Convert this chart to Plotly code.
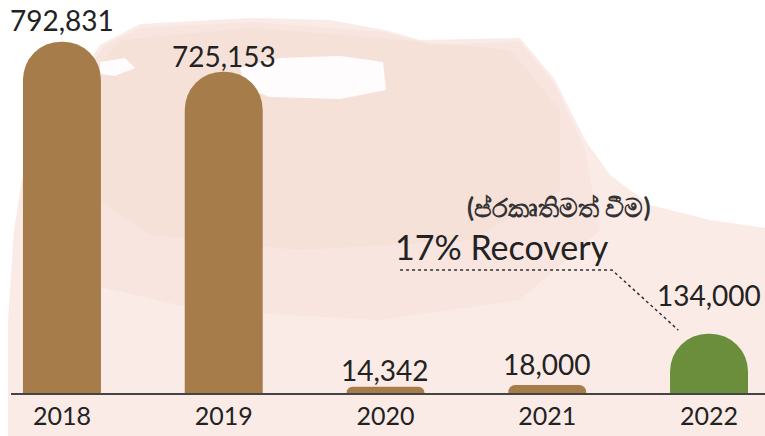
import plotly.graph_objects as go

years = ["2018", "2019", "2020", "2021", "2022"]
arrivals = [792831, 725153, 14342, 18000, 134000]
value_labels = ["792,831", "725,153", "14,342", "18,000", "134,000"]
recovery_label = "17% Recovery"
recovery_label_si = "(ප්රකෘතිමත් වීම)"

BROWN = "#A67C4A"
GREEN = "#6A8E3B"
TEXT = "#222222"
FONT = "Lato, 'Noto Sans', sans-serif"

colors = [BROWN, BROWN, BROWN, BROWN, GREEN]
xpos = list(range(len(years)))
label_shift = [3, -3, -2, 2, 20]

W, H, ML, MB = 765, 436, 11, 43
PW, PH = W - ML, H - MB


def wash(points):
    """Decorative background blob given in screen pixels -> paper coords path."""
    pts = [((px - ML) / PW, (PH - py) / PH) for px, py in points]
    return "M " + " L ".join(f"{x:.4f} {y:.4f}" for x, y in pts) + " Z"


fig = go.Figure()
fig.add_trace(go.Bar(
    x=xpos, y=arrivals, width=0.482,
    marker=dict(color=colors, line=dict(width=0)),
    hoverinfo="skip",
))

shapes = [
    # main light wash
    dict(type="path", xref="paper", yref="paper", layer="below",
         path=wash([(8, 436), (8, 320), (14, 230), (22, 180), (45, 130), (100, 45), (140, 24),
                    (250, 18), (330, 20), (385, 30), (420, 40), (520, 38), (555, 80), (585, 140),
                    (610, 175), (650, 205), (710, 220), (765, 228), (765, 436)]),
         fillcolor="rgba(249,233,227,0.9)", line=dict(width=0)),
    # slightly denser centre, layered softly
    dict(type="path", xref="paper", yref="paper", layer="below",
         path=wash([(105, 45), (140, 28), (250, 22), (385, 32), (430, 45), (520, 42), (555, 85),
                    (585, 150), (600, 230), (520, 300), (380, 320), (200, 310), (70, 280), (30, 200), (45, 130)]),
         fillcolor="rgba(240,205,192,0.18)", line=dict(width=0)),
    dict(type="path", xref="paper", yref="paper", layer="below",
         path=wash([(120, 40), (250, 28), (380, 38), (510, 50), (560, 110), (560, 190), (470, 240),
                    (300, 250), (150, 235), (70, 180), (80, 90)]),
         fillcolor="rgba(238,200,186,0.15)", line=dict(width=0)),
    # white streaks
    dict(type="path", xref="paper", yref="paper", layer="below",
         path=wash([(240, 68), (280, 58), (340, 56), (383, 62), (386, 90), (340, 99), (270, 97), (245, 88)]),
         fillcolor="rgba(255,255,255,0.9)", line=dict(width=0)),
    dict(type="path", xref="paper", yref="paper", layer="below",
         path=wash([(100, 62), (125, 58), (135, 68), (115, 76), (100, 74)]),
         fillcolor="rgba(255,255,255,0.9)", line=dict(width=0)),
]

# dotted leader line in data coordinates
shapes.append(dict(type="path", xref="x", yref="y", layer="above",
                   path="M 2.09 277600 L 3.40 277600 L 3.81 142000",
                   line=dict(color="#333333", width=1.5, dash="dot")))

annotations = []
for x, v, t, s in zip(xpos, arrivals, value_labels, label_shift):
    annotations.append(dict(x=x, y=v, text=t, showarrow=False, xref="x", yref="y",
                            yanchor="bottom", yshift=s,
                            font=dict(family=FONT, size=28, color=TEXT)))
annotations.append(dict(x=2.72, y=330000, text=recovery_label, showarrow=False,
                        xref="x", yref="y", font=dict(family=FONT, size=34, color=TEXT)))
annotations.append(dict(x=3.07, y=420000, text="<b>" + recovery_label_si + "</b>", showarrow=False,
                        xref="x", yref="y", font=dict(family=FONT, size=26, color="#333333")))

fig.update_layout(
    width=W, height=H,
    margin=dict(l=ML, r=0, t=0, b=MB, autoexpand=False),
    paper_bgcolor="white", plot_bgcolor="rgba(0,0,0,0)",
    barcornerradius="50%",
    showlegend=False,
    shapes=shapes,
    annotations=annotations,
    xaxis=dict(range=[-0.315, 4.346], tickmode="array", tickvals=xpos, ticktext=years,
               showgrid=False, zeroline=False, showline=True, linecolor="#444444", linewidth=2,
               ticks="", tickfont=dict(family=FONT, size=25, color=TEXT), fixedrange=True),
    yaxis=dict(range=[0, 887000], visible=False, fixedrange=True),
)
fig.write_html("out.html", config={"displayModeBar": False},
               post_script="document.body.style.margin='0';document.body.style.overflow='hidden';")
